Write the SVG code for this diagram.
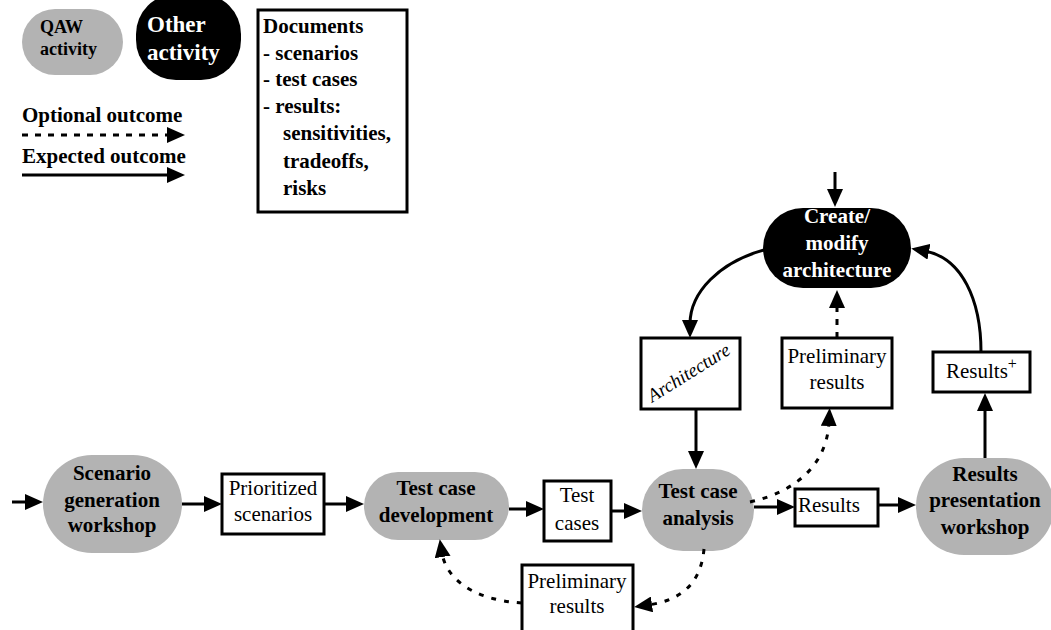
<svg xmlns="http://www.w3.org/2000/svg" width="1051" height="630" viewBox="0 0 1051 630">
<defs>
<style>
text{font-family:"Liberation Serif","Times New Roman",serif;fill:#000}
.b{font-weight:bold}
.w{fill:#fff}
.act{fill:#b3b3b3}
.oth{fill:#000}
.box{fill:#fff;stroke:#000;stroke-width:3}
.c{fill:none;stroke:#000;stroke-width:3}
.d{stroke-dasharray:6 7}
.dc{stroke-dasharray:5 8}
.mid{text-anchor:middle}
</style>
<marker id="ah" viewBox="0 0 18 16" markerWidth="18" markerHeight="16" refX="4" refY="8" orient="auto" markerUnits="userSpaceOnUse">
<path d="M0,0 L18,8 L0,16 z" fill="#000"/>
</marker>
</defs>

<g id="legend">
<g id="legend-qaw">
<rect class="act" x="22" y="9" width="101" height="66" rx="33"/>
<text class="b" x="40" y="33" font-size="18">QAW</text>
<text class="b" x="40" y="55" font-size="18">activity</text>
</g>
<g id="legend-other">
<rect class="oth" x="136" y="-6" width="105" height="86" rx="40"/>
<text class="b w" x="147" y="32" font-size="23">Other</text>
<text class="b w" x="147" y="60" font-size="23">activity</text>
</g>
<g id="legend-documents">
<rect class="box" x="258" y="10" width="149" height="202"/>
<text class="b" font-size="21">
<tspan x="263" y="33">Documents</tspan>
<tspan x="263" y="60">- scenarios</tspan>
<tspan x="263" y="86">- test cases</tspan>
<tspan x="263" y="113">- results:</tspan>
<tspan x="283" y="140">sensitivities,</tspan>
<tspan x="283" y="168">tradeoffs,</tspan>
<tspan x="283" y="195">risks</tspan>
</text>
</g>
<g id="legend-arrows">
<text class="b" x="22" y="122" font-size="21">Optional outcome</text>
<line class="c d" x1="22" y1="135" x2="171" y2="135" marker-end="url(#ah)"/>
<text class="b" x="22" y="163" font-size="21">Expected outcome</text>
<line class="c" x1="22" y1="175" x2="171" y2="175" marker-end="url(#ah)"/>
</g>
</g>

<g id="create-modify">
<rect class="oth" x="763" y="208" width="148" height="80" rx="40"/>
<text class="b w mid" x="837" font-size="21"><tspan x="837" y="223">Create/</tspan><tspan x="837" y="250">modify</tspan><tspan x="837" y="277">architecture</tspan></text>
</g>
<g id="architecture">
<rect class="box" x="641" y="338" width="99" height="71"/>
<text class="mid" font-size="19" font-style="italic" transform="translate(692,378) rotate(-32)" x="0" y="0">Architecture</text>
</g>
<g id="prelim-upper">
<rect class="box" x="782" y="338" width="110" height="70"/>
<text class="mid" font-size="21"><tspan x="837" y="363">Preliminary</tspan><tspan x="837" y="389">results</tspan></text>
</g>
<g id="results-plus">
<rect class="box" x="933" y="352" width="97" height="40"/>
<text x="946" y="378" font-size="21">Results<tspan font-size="16" dy="-9">+</tspan></text>
</g>

<g id="scenario-workshop">
<rect class="act" x="43" y="455" width="139" height="98" rx="49"/>
<text class="b mid" font-size="21"><tspan x="112" y="480">Scenario</tspan><tspan x="112" y="507">generation</tspan><tspan x="112" y="532">workshop</tspan></text>
</g>
<g id="prioritized">
<rect class="box" x="222" y="474" width="102" height="60"/>
<text class="mid" font-size="21"><tspan x="273" y="495">Prioritized</tspan><tspan x="273" y="521">scenarios</tspan></text>
</g>
<g id="tc-development">
<rect class="act" x="364" y="472" width="145" height="68" rx="34"/>
<text class="b mid" font-size="21"><tspan x="436" y="495">Test case</tspan><tspan x="436" y="522">development</tspan></text>
</g>
<g id="test-cases">
<rect class="box" x="544" y="481" width="67" height="60"/>
<text class="mid" font-size="21"><tspan x="577" y="502">Test</tspan><tspan x="577" y="530">cases</tspan></text>
</g>
<g id="tc-analysis">
<rect class="act" x="642" y="469" width="112" height="82" rx="41"/>
<text class="b mid" font-size="21"><tspan x="698" y="498">Test case</tspan><tspan x="698" y="525">analysis</tspan></text>
</g>
<g id="results">
<rect class="box" x="795" y="489" width="83" height="37"/>
<text x="798" y="512" font-size="21">Results</text>
</g>
<g id="results-workshop">
<rect class="act" x="916" y="458" width="138" height="97" rx="48"/>
<text class="b mid" font-size="21"><tspan x="985" y="481">Results</tspan><tspan x="985" y="507">presentation</tspan><tspan x="985" y="534">workshop</tspan></text>
</g>
<g id="prelim-lower">
<rect class="box" x="522" y="565" width="111" height="80"/>
<text class="mid" font-size="21"><tspan x="577" y="588">Preliminary</tspan><tspan x="577" y="613">results</tspan></text>
</g>

<g id="connectors">
<line class="c" x1="835" y1="172" x2="835" y2="193" marker-end="url(#ah)"/>
<path class="c" d="M764,250 C720,262 690,292 690,324" marker-end="url(#ah)"/>
<path class="c" d="M981,352 C981,300 962,258 925,251" marker-end="url(#ah)"/>
<line class="c d" x1="837" y1="338" x2="837" y2="304" marker-end="url(#ah)"/>
<line class="c" x1="696" y1="409" x2="696" y2="455" marker-end="url(#ah)"/>
<line class="c" x1="985" y1="458" x2="985" y2="407" marker-end="url(#ah)"/>

<line class="c" x1="12" y1="502" x2="29" y2="502" marker-end="url(#ah)"/>
<line class="c" x1="182" y1="504" x2="208" y2="504" marker-end="url(#ah)"/>
<line class="c" x1="324" y1="504" x2="350" y2="504" marker-end="url(#ah)"/>
<line class="c" x1="509" y1="509" x2="530" y2="509" marker-end="url(#ah)"/>
<line class="c" x1="611" y1="511" x2="628" y2="511" marker-end="url(#ah)"/>
<line class="c" x1="754" y1="507" x2="781" y2="507" marker-end="url(#ah)"/>
<line class="c" x1="878" y1="505" x2="902" y2="505" marker-end="url(#ah)"/>

<path class="c dc" d="M750,502 C795,492 827,465 829,422" marker-end="url(#ah)"/>
<path class="c dc" d="M704,549 C701,582 683,600 648,605" marker-end="url(#ah)"/>
<path class="c dc" d="M522,603 C472,600 446,578 442,553" marker-end="url(#ah)"/>
</g>
</svg>
